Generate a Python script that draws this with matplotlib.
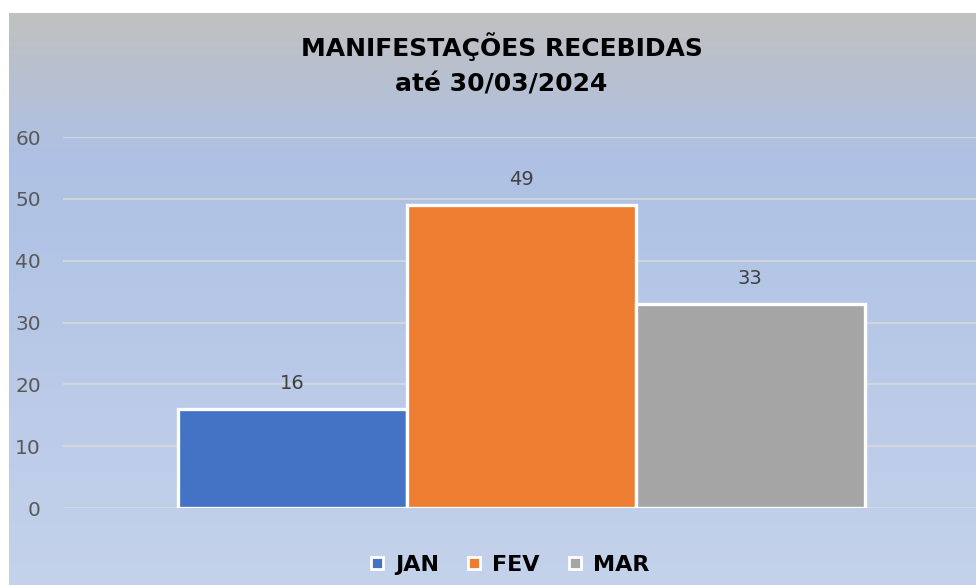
import numpy as np
import matplotlib.pyplot as plt
from matplotlib.colors import LinearSegmentedColormap
from matplotlib.lines import Line2D

# data
months = ["JAN", "FEV", "MAR"]
values = [16, 49, 33]
colors = ["#4472c4", "#ed7d31", "#a5a5a5"]
title = "MANIFESTAÇÕES RECEBIDAS\naté 30/03/2024"

W, H = 976, 585
fig = plt.figure(figsize=(W / 100, H / 100), dpi=100, facecolor="white")

# gradient background of the chart area
bg = fig.add_axes([9 / W, 0, 1 - 9 / W, 1 - 13 / H], zorder=0)
cmap = LinearSegmentedColormap.from_list(
    "bg", [(0.0, "#c0c0c0"), (0.25, "#aec1e4"), (1.0, "#c4d2eb")])
grad = np.linspace(0, 1, 256).reshape(-1, 1)
bg.imshow(grad, aspect="auto", cmap=cmap, extent=[0, 1, 0, 1], origin="upper")
bg.axis("off")

ax = fig.add_axes([63 / W, 1 - 508 / H, 1 - 63 / W, (508 - 137) / H], zorder=1)
ax.patch.set_alpha(0)

offsets = [-1, 0, 1]
for off, v, c, m in zip(offsets, values, colors, months):
    ax.bar(off, v, width=1.0, color=c, edgecolor="white", linewidth=2.4,
           label=m, zorder=3)
    ax.text(off, v + 2.6, str(v), ha="center", va="bottom",
            fontsize=14, color="#404040", zorder=4)

ax.set_xlim(-2.0, 1.985)
ax.set_ylim(0, 60)
ax.set_yticks(range(0, 61, 10))
ax.yaxis.grid(True, color="#d9d9d9", linewidth=1.2, zorder=0)
ax.set_xticks([])
for s in ax.spines.values():
    s.set_visible(False)
ax.tick_params(axis="y", length=0, labelsize=14.5, labelcolor="#595959", pad=16)

fig.text(0.514, 1 - 64 / H, title, ha="center", va="center",
         fontsize=18, fontweight="bold", color="#000000", linespacing=1.6)

handles = [Line2D([], [], marker="s", linestyle="none", markersize=9,
                  markerfacecolor=c, markeredgecolor="white", markeredgewidth=2)
           for c in colors]
fig.legend(handles, months, loc="center", bbox_to_anchor=(0.52, 1 - 565 / H),
           ncol=3, frameon=False, handlelength=1.0, handletextpad=0.3,
           columnspacing=1.1, prop={"weight": "bold", "size": 16})

fig.savefig("out.png", dpi=100, facecolor="white")
